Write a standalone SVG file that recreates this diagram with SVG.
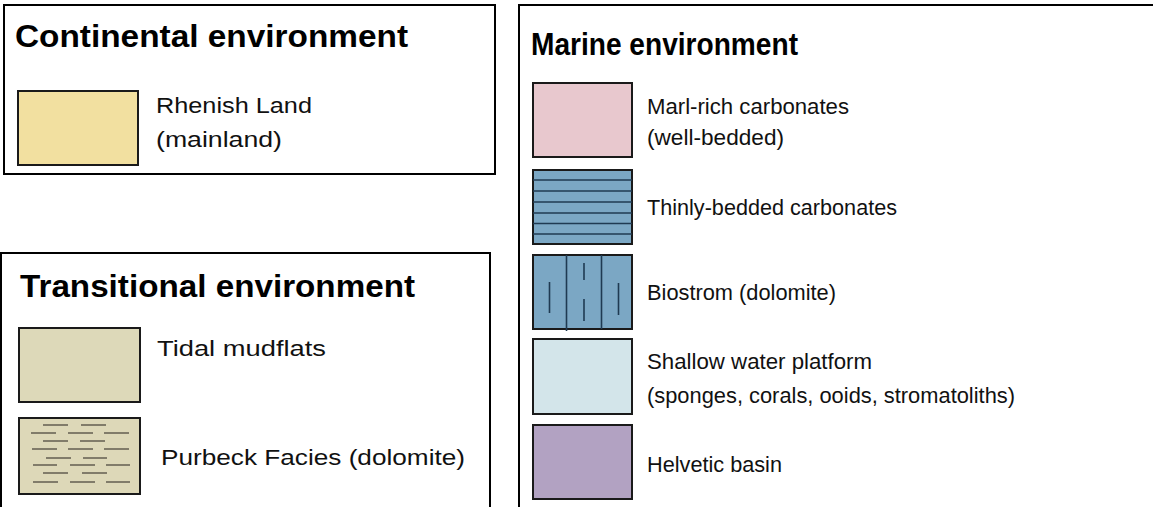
<svg xmlns="http://www.w3.org/2000/svg" width="1153" height="507" viewBox="0 0 1153 507">
<style>
.box{fill:#fff;stroke:#000;stroke-width:2}
.sw{stroke:#1a1a1a;stroke-width:2}
.title{font-family:"Liberation Sans",Arial,sans-serif;font-weight:bold;font-size:31px;fill:#000}
.lbl{font-family:"Liberation Sans",Arial,sans-serif;font-size:22px;fill:#111}
.hl{stroke:#1f3a52;stroke-width:1.6}
.dash{stroke:#5a5548;stroke-width:1.4}
</style>
<rect width="1153" height="507" fill="#fff"/>
<g id="continental">
<rect class="box" x="4" y="5" width="491" height="169"/>
<text class="title" x="15" y="47" textLength="393" lengthAdjust="spacingAndGlyphs">Continental environment</text>
<rect class="sw" x="18" y="91" width="120" height="74" fill="#F2E0A0"/>
<text class="lbl" x="156" y="113" textLength="156" lengthAdjust="spacingAndGlyphs">Rhenish Land</text>
<text class="lbl" x="156" y="147" textLength="126" lengthAdjust="spacingAndGlyphs">(mainland)</text>
</g>
<g id="transitional">
<rect class="box" x="1" y="253" width="489" height="270"/>
<text class="title" x="20" y="297" textLength="395" lengthAdjust="spacingAndGlyphs">Transitional environment</text>
<rect class="sw" x="19" y="328" width="121" height="74" fill="#DDD9B9"/>
<text class="lbl" x="157" y="356" textLength="169" lengthAdjust="spacingAndGlyphs">Tidal mudflats</text>
<rect class="sw" x="19" y="418" width="121" height="76" fill="#DDD8B8"/>
<g class="dash">
<line x1="43" y1="425" x2="68" y2="425"/><line x1="81" y1="425" x2="106" y2="425"/>
<line x1="31" y1="433" x2="56" y2="433"/><line x1="68" y1="433" x2="93" y2="433"/><line x1="104" y1="433" x2="129" y2="433"/>
<line x1="43" y1="441" x2="68" y2="441"/><line x1="80" y1="441" x2="105" y2="441"/>
<line x1="32" y1="449" x2="57" y2="449"/><line x1="68" y1="449" x2="93" y2="449"/><line x1="104" y1="449" x2="129" y2="449"/>
<line x1="46" y1="458" x2="71" y2="458"/><line x1="83" y1="458" x2="107" y2="458"/>
<line x1="33" y1="465" x2="57" y2="465"/><line x1="70" y1="465" x2="95" y2="465"/><line x1="106" y1="465" x2="130" y2="465"/>
<line x1="43" y1="473" x2="68" y2="473"/><line x1="82" y1="473" x2="107" y2="473"/>
<line x1="33" y1="482" x2="58" y2="482"/><line x1="70" y1="482" x2="95" y2="482"/><line x1="106" y1="482" x2="130" y2="482"/>
</g>
<text class="lbl" x="161" y="465" textLength="304" lengthAdjust="spacingAndGlyphs">Purbeck Facies (dolomite)</text>
</g>
<g id="marine">
<rect class="box" x="519" y="5" width="650" height="520"/>
<text class="title" x="531" y="55" textLength="267" lengthAdjust="spacingAndGlyphs">Marine environment</text>
<rect class="sw" x="533" y="83" width="99" height="74" fill="#E8C8CE"/>
<text class="lbl" x="647" y="114" textLength="202" lengthAdjust="spacingAndGlyphs">Marl-rich carbonates</text>
<text class="lbl" x="647" y="145" textLength="137" lengthAdjust="spacingAndGlyphs">(well-bedded)</text>
<rect class="sw" x="533" y="170" width="99" height="74" fill="#7BA7C4"/>
<g class="hl">
<line x1="533" y1="180" x2="632" y2="180"/><line x1="533" y1="191" x2="632" y2="191"/>
<line x1="533" y1="202" x2="632" y2="202"/><line x1="533" y1="213" x2="632" y2="213"/>
<line x1="533" y1="223.5" x2="632" y2="223.5"/><line x1="533" y1="234" x2="632" y2="234"/>
</g>
<text class="lbl" x="647" y="215" textLength="250" lengthAdjust="spacingAndGlyphs">Thinly-bedded carbonates</text>
<rect class="sw" x="533" y="255" width="99" height="74" fill="#7BA7C4"/>
<g class="hl">
<line x1="566.5" y1="255" x2="566.5" y2="331"/><line x1="601.5" y1="255" x2="601.5" y2="329"/>
<line x1="549.5" y1="282" x2="549.5" y2="313"/>
<line x1="584" y1="263" x2="584" y2="280"/><line x1="584" y1="299" x2="584" y2="321"/>
<line x1="618.5" y1="283" x2="618.5" y2="315"/>
</g>
<text class="lbl" x="647" y="300" textLength="189" lengthAdjust="spacingAndGlyphs">Biostrom (dolomite)</text>
<rect class="sw" x="533" y="339" width="99" height="75" fill="#D3E5EA"/>
<text class="lbl" x="647" y="369" textLength="225" lengthAdjust="spacingAndGlyphs">Shallow water platform</text>
<text class="lbl" x="647" y="403" textLength="368" lengthAdjust="spacingAndGlyphs">(sponges, corals, ooids, stromatoliths)</text>
<rect class="sw" x="533" y="425" width="99" height="74" fill="#B2A2C2"/>
<text class="lbl" x="647" y="472" textLength="135" lengthAdjust="spacingAndGlyphs">Helvetic basin</text>
</g>
</svg>
